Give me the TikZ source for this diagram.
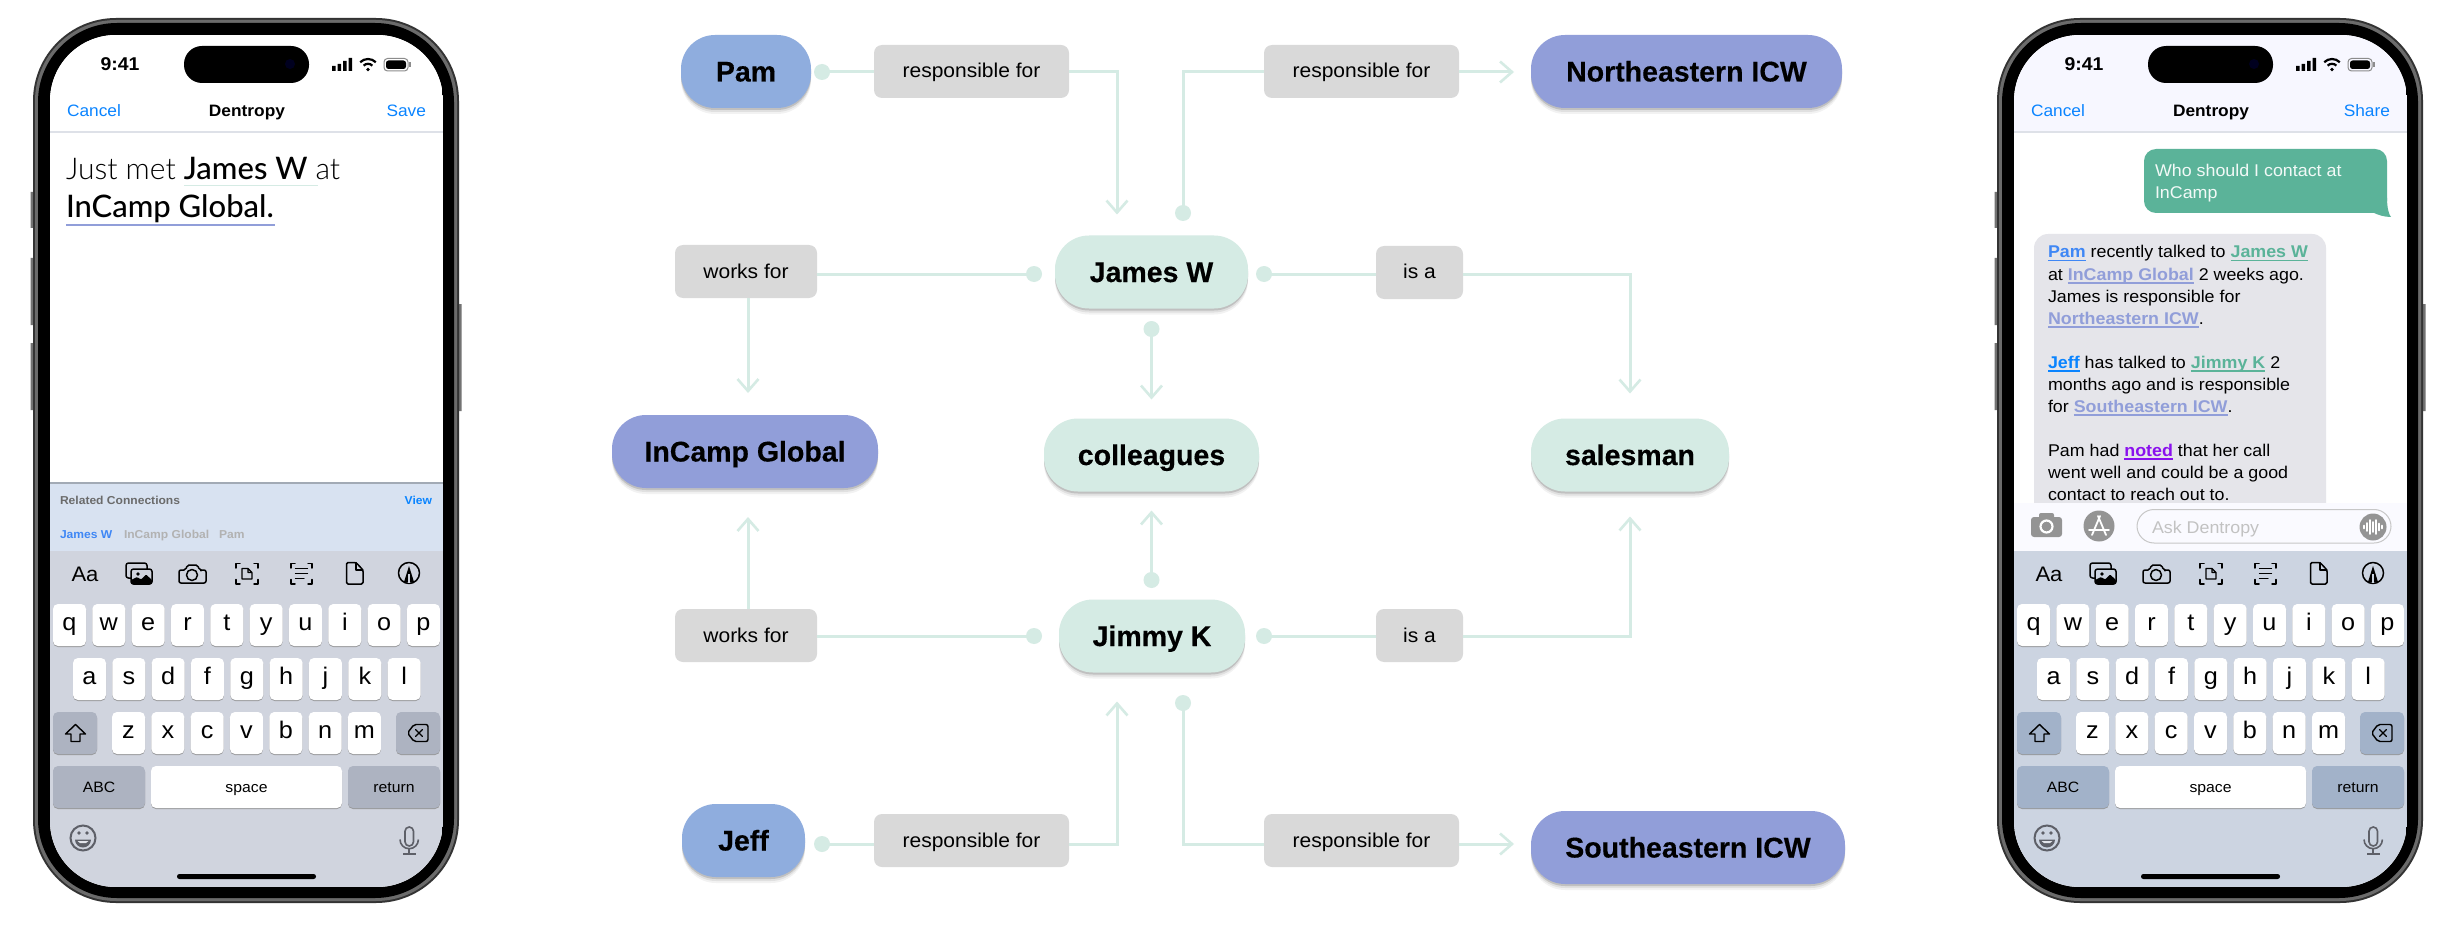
\documentclass[tikz,border=0pt]{standalone}
\usepackage{fontspec}
\setmainfont{Liberation Sans}
\newfontfamily\uifont[FakeStretch=1.05]{Liberation Sans}
\newfontfamily\pillfont[BoldFeatures={FakeBold=0.35}]{Liberation Sans}
\newfontfamily\lightf{Lato Light}
\newfontfamily\medf{Lato Medium}
\usetikzlibrary{arrows.meta,calc}
\definecolor{pamblue}{HTML}{8FADDE}
\definecolor{orgpurple}{HTML}{919ED9}
\definecolor{mint}{HTML}{D5EBE4}
\definecolor{lblgrey}{HTML}{D9D9D9}
\definecolor{iosblue}{HTML}{0A84FF}
\definecolor{softblue}{HTML}{3F87F5}
\definecolor{teal}{HTML}{5BB399}
\definecolor{violetlink}{HTML}{8A10EE}
\definecolor{kbA}{HTML}{D0D4DE}
\definecolor{kbB}{HTML}{CCD4E1}
\definecolor{darkA}{HTML}{ADB3C1}
\definecolor{darkB}{HTML}{A2B2C9}
\definecolor{icongrey}{HTML}{5E6068}
\definecolor{panelblue}{HTML}{D8E2F1}
\definecolor{bubble}{HTML}{E5E5EA}
\newcommand\fs[1]{\fontsize{#1}{#1}\selectfont}
\newcommand\lnk[2]{\mbox{\setbox0\hbox{\textcolor{#1}{\bfseries #2}}\rlap{\textcolor{#1}{\rule[-3.5pt]{\wd0}{1.6pt}}}\box0\relax}}
\tikzset{
  x=1pt,y=-1pt,
  every node/.style={inner sep=0pt,outer sep=0pt},
  pill/.style={rectangle,rounded corners=34pt,minimum height=73pt,
    text height=20pt,text depth=0pt,font=\pillfont\bfseries\fs{28.5},
    preaction={fill=black,fill opacity=.05,transform canvas={yshift=-6pt}},
    preaction={fill=black,fill opacity=.07,transform canvas={yshift=-4pt}},
    preaction={fill=black,fill opacity=.14,transform canvas={yshift=-2pt}}},
  lblbox/.style={rectangle,rounded corners=8pt,fill=lblgrey,minimum height=53pt,
    text height=13pt,text depth=0pt,font=\uifont\fs{20}},
  cdot/.style={circle,fill=mint,minimum size=16pt},
  conn/.style={draw=mint,line width=3pt},
  barb/.style={conn,-{Straight Barb[length=12pt,width=21pt,line width=2.6pt]}},
  kbkey/.style={rectangle,rounded corners=5pt,minimum height=42pt,fill=white,
    text height=10pt,text depth=0pt,font=\uifont\fs{24},
    preaction={fill=black!45,fill opacity=.8,transform canvas={yshift=-1pt}}},
  word/.style={anchor=base west,font=\uifont\fs{17}},
  ic/.style={draw=black,line width=1.5pt,line cap=round,line join=round},
}
% #1 prefix, #2 keyboard colour, #3 dark key colour, #4 right-hand nav word, #5 top fill
\newcommand\iphone[5]{%
  % side buttons
  \fill[black!55] (30.5,192) rectangle (34,228) (30.5,258) rectangle (34,325) (30.5,343) rectangle (34,410) (458,304) rectangle (461.5,411);
  % body
  \fill[black!80,rounded corners=83pt] (33,18) rectangle (459,903);
  \fill[black!58,rounded corners=81pt] (35,20) rectangle (457,901);
  \fill[black,rounded corners=79pt] (38,23) rectangle (454,898);
  \begin{scope}
    \clip[rounded corners=66pt] (50,35) rectangle (443,887);
    \fill[white] (50,35) rectangle (443,887);
    \fill[#5] (50,35) rectangle (443,132);
    \fill[kbA!70!white] (50,131.5) rectangle (443,133);
    \fill[#2] (50,551) rectangle (443,887);
  \end{scope}
  % status bar
  \fill[black,rounded corners=18pt] (184,46) rectangle (309,83);
  \fill[black!60!blue!30!black] (290,64) circle[radius=5pt];
  \node[name=#1time,anchor=base,font=\uifont\bfseries\fs{18.5}] at (120,71) {9:41};
  \fill (332,66) rectangle (335.5,71) (337.5,64) rectangle (341,71) (343,61) rectangle (346.5,71) (348.5,58) rectangle (352,71);
  \draw[black,line width=2.2pt] (368,70) ++(45:6.2pt) arc[start angle=45,end angle=135,radius=6.2pt];
  \draw[black,line width=2.2pt] (368,70) ++(45:11pt) arc[start angle=45,end angle=135,radius=11pt];
  \fill (368,69.5) circle[radius=1.9pt];
  \draw[black!45,line width=1pt,rounded corners=3.5pt] (384,58.5) rectangle (408,71);
  \fill[rounded corners=2.5pt] (386,60.5) rectangle (406,69);
  \fill[black!45] (409,62.5) rectangle (410.5,67);
  % nav bar
  \node[name=#1cancel,anchor=base west,text=iosblue,font=\uifont\fs{16.5}] at (67,117) {Cancel};
  \node[name=#1title,anchor=base,font=\uifont\bfseries\fs{16.5}] at (247,117) {Dentropy};
  \node[name=#1action,anchor=base east,text=iosblue,font=\uifont\fs{16.5}] at (426,117) {#4};
  % keyboard toolbar
  \node[name=#1aa,anchor=base,font=\uifont\fs{21}] at (85,581) {Aa};
  \draw[ic,rounded corners=2.5pt] (131,578) -- (126,578) -- (126,563) -- (147,563) -- (147,569);
  \draw[ic,rounded corners=2.5pt] (131,569) rectangle (152,584);
  \fill[black,rounded corners=1pt] (131,584) -- (131,580) -- (137,577) -- (141,579.5) -- (146,574.5) -- (152,580) -- (152,584) -- cycle;
  \fill (138,574) circle[radius=1.8pt];
  \draw[ic,rounded corners=2pt] (179,570) -- (186,570) -- (187,565) -- (198,565) -- (199,570) -- (206,570) -- (206,583) -- (179,583) -- cycle;
  \draw[ic] (192,575) circle[radius=5.5pt];
  \fill (201,570.5) circle[radius=1.2pt];
  \draw[ic] (236,568) -- (236,563.5) -- (240,563.5) (254,563.5) -- (258,563.5) -- (258,568) (258,579.5) -- (258,584) -- (254,584) (240,584) -- (236,584) -- (236,579.5);
  \draw[ic,line width=1.2pt] (242,568.5) -- (248,568.5) -- (252,572.5) -- (252,579) -- (242,579) -- cycle (248,568.5) -- (248,572.5) -- (252,572.5);
  \draw[ic] (291,568) -- (291,563.5) -- (295,563.5) (308,563.5) -- (312,563.5) -- (312,568) (312,579.5) -- (312,584) -- (308,584) (295,584) -- (291,584) -- (291,579.5);
  \draw[ic,line width=1.2pt] (295.5,568.5) -- (307.5,568.5) (295.5,573.5) -- (307.5,573.5) (295.5,578.5) -- (304,578.5);
  \draw[ic,rounded corners=1.5pt] (346.5,562.5) -- (356,562.5) -- (363,570) -- (363,584) -- (346.5,584) -- cycle;
  \draw[ic,line width=1.2pt] (356,562.5) -- (356,570) -- (363,570);
  \draw[ic] (409,573) circle[radius=10.5pt];
  \fill (409,566) -- (414,582) -- (404,582) -- cycle;
  \fill[#2] (407.8,574) rectangle (410.2,583);
  % letter keys
  \foreach \c [count=\i from 0] in {q,w,e,r,t,y,u,i,o,p}
    \node[kbkey,minimum width=33pt,name=#1\c] at ({69.5+39.33*\i},625) {\c};
  \foreach \c [count=\i from 0] in {a,s,d,f,g,h,j,k,l}
    \node[kbkey,minimum width=33pt,name=#1\c] at ({89.5+39.33*\i},679) {\c};
  \foreach \c [count=\i from 0] in {z,x,c,v,b,n,m}
    \node[kbkey,minimum width=33pt,name=#1\c] at ({128.5+39.33*\i},733) {\c};
  \node[kbkey,fill=#3,minimum width=44pt,name=#1shift] at (75,733) {};
  \node[kbkey,fill=#3,minimum width=44pt,name=#1back] at (418,733) {};
  \draw[ic,line width=1.4pt] (75.5,724.5) -- (85.5,734) -- (80,734) -- (80,741.5) -- (71,741.5) -- (71,734) -- (65.5,734) -- cycle;
  \draw[ic,line width=1.4pt,rounded corners=2pt] (414,724.5) -- (428,724.5) -- (428,741.5) -- (414,741.5) -- (407.5,733) -- cycle;
  \draw[ic,line width=1.2pt] (415.5,729.5) -- (422.5,736.5) (422.5,729.5) -- (415.5,736.5);
  \node[kbkey,fill=#3,minimum width=92pt,font=\uifont\fs{15},text height=11pt,name=#1abc] at (99,787) {ABC};
  \node[kbkey,minimum width=191pt,font=\uifont\fs{15},text height=11pt,name=#1space] at (246.5,787) {space};
  \node[kbkey,fill=#3,minimum width=92pt,font=\uifont\fs{15},text height=11pt,name=#1ret] at (394,787) {return};
  % bottom row
  \draw[icongrey,line width=2pt] (83,838) circle[radius=12.5pt];
  \fill[icongrey] (79,833) circle[radius=1.8pt] (87,833) circle[radius=1.8pt];
  \fill[icongrey] (75,839.5) -- (91,839.5) arc[start angle=0,end angle=-180,radius=8pt] -- cycle;
  \fill[kbA!60!white] (77.5,841) -- (88.5,841) -- (86,843) -- (80,843) -- cycle;
  \draw[icongrey,line width=1.6pt,rounded corners=4.2pt] (405,827) rectangle (413.5,846);
  \draw[icongrey,line width=1.6pt] (400,839.5) arc[start angle=180,end angle=360,radius=9.2pt];
  \draw[icongrey,line width=1.6pt] (409.2,849) -- (409.2,854) (403,854) -- (416,854);
  \fill[black,rounded corners=2.4pt] (177,874) rectangle (316,879);
}
\begin{document}
\begin{tikzpicture}
\useasboundingbox (0,0) rectangle (2450,928);
\fill[white] (0,0) rectangle (2450,928);
% ------------ left phone
\iphone{a}{kbA}{darkA}{Save}{white}
\node[name=just,anchor=base west,font=\lightf\fs{30}] at (66,179.5) {Just met {\medf\fs{31}James W} at};
\node[name=incampw,anchor=base west,font=\medf\fs{31}] at (66,217.5) {InCamp Global.};
\fill[mint] (184,184.6) rectangle (318,186.2);
\fill[orgpurple] (66,224) rectangle (275,226);
\fill[panelblue] (50,483) rectangle (443,551);
\fill[black!25!panelblue] (50,482) rectangle (443,483.6);
\node[name=relc,anchor=base west,text=black!58,font=\uifont\bfseries\fs{11.5}] at (60,504) {Related Connections};
\node[name=view,anchor=base east,text=iosblue,font=\uifont\bfseries\fs{11.5}] at (432,504) {View};
\node[name=rel1,anchor=base west,text=softblue,font=\uifont\bfseries\fs{11.5}] at (60,538) {James W};
\node[name=rel2,anchor=base west,text=black!30,font=\uifont\bfseries\fs{11.5}] at (124,538) {InCamp Global};
\node[name=rel3,anchor=base west,text=black!30,font=\uifont\bfseries\fs{11.5}] at (219,538) {Pam};
% ------------ right phone
\begin{scope}[shift={(1964,0)}]
\iphone{b}{kbB}{darkB}{Share}{blue!3!white}
\end{scope}
\fill[teal,rounded corners=12pt] (2144,149) rectangle (2387,213);
\fill[teal] (2387,198) .. controls (2387,208) and (2389,215) .. (2391,217) .. controls (2384,217) and (2378,215) .. (2372,212) -- cycle;
\node[word,name=q1,text=white!92!teal] at (2155,176.7) {Who should I contact at};
\node[word,name=q2,text=white!92!teal] at (2155,198.7) {InCamp};
\begin{scope}
  \clip (2000,225) rectangle (2420,503);
  \fill[bubble,rounded corners=14pt] (2034,234) rectangle (2326,540);
\end{scope}
\node[word,name=t1] at (2048,258) {\lnk{softblue}{Pam} recently talked to \lnk{teal}{James W}};
\node[word,name=t2] at (2048,280) {at \lnk{orgpurple}{InCamp Global} 2 weeks ago.};
\node[word,name=t3] at (2048,302) {James is responsible for};
\node[word,name=t4] at (2048,324) {\lnk{orgpurple}{Northeastern ICW}.};
\node[word,name=t5] at (2048,368) {\lnk{iosblue}{Jeff} has talked to \lnk{teal}{Jimmy K} 2};
\node[word,name=t6] at (2048,390) {months ago and is responsible};
\node[word,name=t7] at (2048,412) {for \lnk{orgpurple}{Southeastern ICW}.};
\node[word,name=t8] at (2048,456) {Pam had \lnk{violetlink}{noted} that her call};
\node[word,name=t9] at (2048,478) {went well and could be a good};
\node[word,name=t10] at (2048,500) {contact to reach out to.};
\fill[blue!2!white] (2014,503) rectangle (2407,551);
% input row
\fill[black!42,rounded corners=3pt] (2031,517) rectangle (2062,537);
\fill[black!42,rounded corners=2pt] (2039,513) rectangle (2054,520);
\draw[white,line width=2.2pt] (2046.5,526.5) circle[radius=6pt];
\fill[black!42] (2099,526) circle[radius=15.5pt];
\draw[white,line width=1.8pt,line cap=round] (2100,516) -- (2092,535) (2098,516) -- (2106,535) (2089,530) -- (2109,530);
\draw[black!22,line width=1pt,rounded corners=17pt] (2137,509.5) rectangle (2391,543);
\node[name=ask,anchor=base west,text=black!24,font=\uifont\fs{17}] at (2152,533) {Ask Dentropy};
\fill[black!42] (2373,527) circle[radius=13.5pt];
\foreach \d/\h in {-8/1.5,-5/4,-2/7,1/5,4/7,7/3.5,10/1.5}
  \draw[white,line width=1.6pt,line cap=round] ({2372+\d},{527-\h}) -- ({2372+\d},{527+\h});
% ------------ graph nodes
\node[pill,fill=pamblue,minimum width=130pt,name=pam] at (746,71.5) {Pam};
\node[pill,fill=orgpurple,minimum width=311pt,name=ne] at (1686.5,71.5) {Northeastern ICW};
\node[pill,fill=mint,minimum width=193pt,name=james] at (1151.5,272) {James W};
\node[pill,fill=orgpurple,minimum width=266pt,name=incamp] at (745,451.5) {InCamp Global};
\node[pill,fill=mint,minimum width=215pt,name=coll] at (1151.5,455) {colleagues};
\node[pill,fill=mint,minimum width=198pt,name=sales] at (1630,455) {salesman};
\node[pill,fill=mint,minimum width=186pt,name=jimmy] at (1152,636) {Jimmy K};
\node[pill,fill=pamblue,minimum width=123pt,name=jeff] at (743.5,840.5) {Jeff};
\node[pill,fill=orgpurple,minimum width=314pt,name=se] at (1688,847.5) {Southeastern ICW};
\node[lblbox,minimum width=195pt,name=respA] at (971.5,71.5) {responsible for};
\node[lblbox,minimum width=195pt,name=respB] at (1361.5,71.5) {responsible for};
\node[lblbox,minimum width=142pt,name=worksA] at (746,271.5) {works for};
\node[lblbox,minimum width=87pt,name=isA] at (1419.5,272.5) {is a};
\node[lblbox,minimum width=142pt,name=worksB] at (746,635.5) {works for};
\node[lblbox,minimum width=87pt,name=isB] at (1419.5,635.5) {is a};
\node[lblbox,minimum width=195pt,name=respC] at (971.5,840.5) {responsible for};
\node[lblbox,minimum width=195pt,name=respD] at (1361.5,840.5) {responsible for};
% dots
\node[cdot,name=dPam] at (822,72) {};
\node[cdot,name=dJT] at (1183,213) {};
\node[cdot,name=dJL] at (1034,274) {};
\node[cdot,name=dJR] at (1264,274) {};
\node[cdot,name=dJB] at (1151.5,329) {};
\node[cdot,name=dKT] at (1151.5,580) {};
\node[cdot,name=dKL] at (1034,636) {};
\node[cdot,name=dKR] at (1264,636) {};
\node[cdot,name=dKB] at (1183,703) {};
\node[cdot,name=dJeff] at (822,844) {};
% connectors
\draw[conn] (dPam.center) -- (respA.west |- dPam);
\draw[barb,shorten >=21pt] (respA.east |- dPam) -| ([xshift=-34.5pt]james.north);
\draw[conn] (dJT.center) |- (respB.west |- dPam);
\draw[barb,shorten >=17pt] (respB.east |- dPam) -- (ne.west |- dPam);
\draw[conn] (dJL.center) -- (worksA.east |- dJL);
\draw[barb,shorten >=22pt] ([xshift=2pt]worksA.south) -- ([xshift=3pt]incamp.north);
\draw[barb,shorten >=19pt] (dJB.center) -- (coll.north);
\draw[conn] (dJR.center) -- (isA.west |- dJR);
\draw[barb,shorten >=25pt] (isA.east |- dJR) -| (sales.north);
\draw[conn] (dKL.center) -- (worksB.east |- dKL);
\draw[barb,shorten >=29pt] ([xshift=2pt]worksB.north) -- ([xshift=3pt]incamp.south);
\draw[barb,shorten >=19pt] (dKT.center) -- (coll.south);
\draw[conn] (dKR.center) -- (isB.west |- dKR);
\draw[barb,shorten >=25pt] (isB.east |- dKR) -| (sales.south);
\draw[conn] (dJeff.center) -- (respC.west |- dJeff);
\draw[barb,shorten >=29pt] (respC.east |- dJeff) -| ([xshift=-35pt]jimmy.south);
\draw[conn] (dKB.center) |- (respD.west |- dJeff);
\draw[barb,shorten >=17pt] (respD.east |- dJeff) -- (se.west |- dJeff);
\end{tikzpicture}
\end{document}
